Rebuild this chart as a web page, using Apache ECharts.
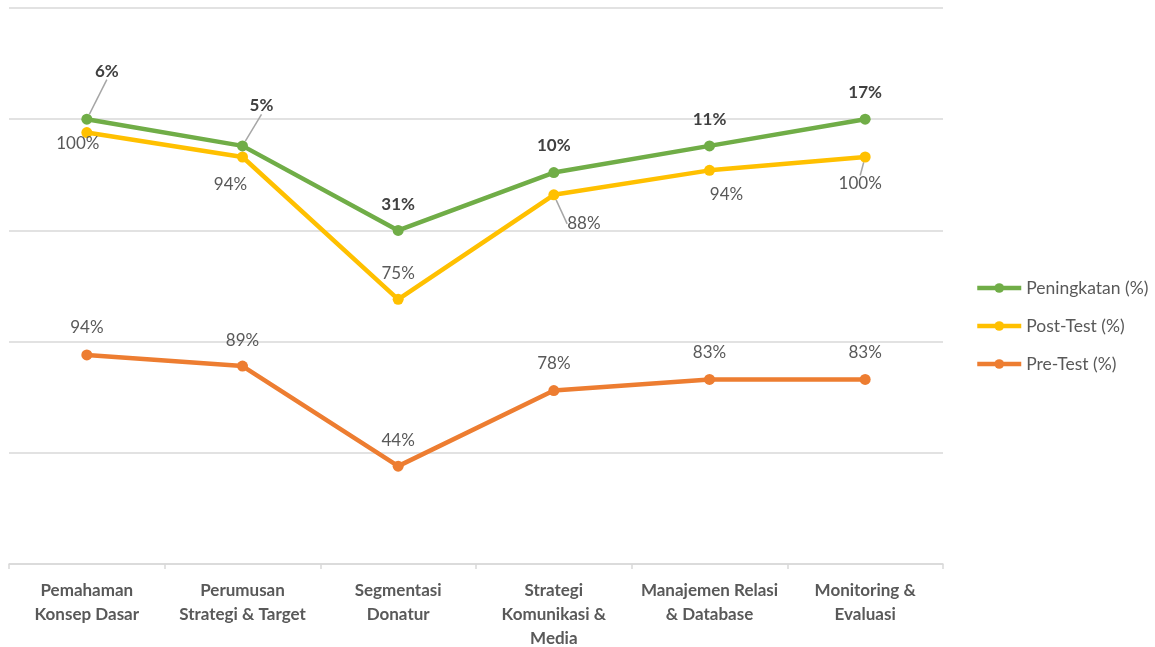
<!DOCTYPE html>
<html>
<head>
<meta charset="utf-8">
<script src="https://cdn.jsdelivr.net/npm/echarts@6/dist/echarts.min.js"></script>
<style>
html,body{margin:0;padding:0;background:#fff;}
#chart{width:1155px;height:647px;}
</style>
</head>
<body>
<div id="chart"></div>
<script>
// ---- data ----
var categories = [
  'Pemahaman\nKonsep Dasar',
  'Perumusan\nStrategi & Target',
  'Segmentasi\nDonatur',
  'Strategi\nKomunikasi &\nMedia',
  'Manajemen Relasi\n& Database',
  'Monitoring &\nEvaluasi'
];
var preTest = [94, 89, 44, 78, 83, 83];
var postTest = [100, 94, 75, 88, 94, 100];
var peningkatan = [6, 5, 31, 10, 11, 17];
var seriesNames = ['Peningkatan (%)', 'Post-Test (%)', 'Pre-Test (%)'];

// ---- label placement (style only) ----
var preOffsets = [[0,-27],[0,-26],[0,-26],[0,-27],[0,-27],[0,-27]];
var postOffsets = [[-9,11],[-12,28],[0,-26],[30,29],[17,24],[-5,27]];
var gainOffsets = [[20,-48],[19,-40],[0,-26],[0,-27],[0,-26],[0,-27]];
var postLeaders = [false,false,false,true,false,true];
var gainLeaders = [true,true,false,false,false,false];

var FONT = 'Lato, "Open Sans", sans-serif';

function mk(values, leaders) {
  return values.map(function (v, i) {
    var o = { value: v };
    if (leaders && leaders[i]) o.labelLine = { show: true };
    return o;
  });
}
function layoutFn(offs) {
  return function (p) {
    var o = offs[p.dataIndex];
    return { dx: o[0], dy: o[1] };
  };
}
function series(name, color, values, offs, leaders, bold) {
  return {
    name: name,
    type: 'line',
    stack: 'total',
    data: mk(values, leaders),
    symbol: 'circle',
    symbolSize: 11,
    lineStyle: { color: color, width: 4.5 },
    itemStyle: { color: color },
    emphasis: { disabled: true },
    label: {
      show: true,
      position: 'inside',
      formatter: '{c}%',
      fontFamily: FONT,
      fontSize: 17,
      fontWeight: bold ? 'bold' : 'normal',
      color: bold ? '#404040' : '#595959'
    },
    labelLine: { show: false, lineStyle: { color: '#a6a6a6', width: 1.5 } },
    labelLayout: layoutFn(offs),
    z: 3
  };
}

var chart = echarts.init(document.getElementById('chart'), null, { renderer: 'canvas' });
chart.setOption({
  animation: false,
  backgroundColor: '#ffffff',
  grid: { left: 9, right: 212, top: 8, bottom: 83, containLabel: false, outerBoundsMode: 'none' },
  legend: {
    orient: 'vertical',
    left: 970,
    top: 274,
    data: seriesNames,
    itemWidth: 44,
    itemHeight: 12,
    itemGap: 20,
    lineStyle: { width: 4.5 },
    textStyle: { fontFamily: FONT, fontSize: 17.5, color: '#595959' }
  },
  xAxis: {
    type: 'category',
    data: categories,
    boundaryGap: true,
    axisLine: { lineStyle: { color: '#d9d9d9', width: 1.5 } },
    axisTick: { show: true, length: 5, lineStyle: { color: '#d9d9d9', width: 1.5 } },
    axisLabel: {
      interval: 0,
      margin: 15,
      fontFamily: FONT,
      fontSize: 17,
      fontWeight: 'bold',
      color: '#595959',
      lineHeight: 24
    }
  },
  yAxis: {
    type: 'value',
    min: 0,
    max: 250,
    interval: 50,
    axisLabel: { show: false },
    axisLine: { show: false },
    axisTick: { show: false },
    splitLine: { show: true, lineStyle: { color: '#d9d9d9', width: 1.5 } }
  },
  series: [
    series(seriesNames[2], '#ed7d31', preTest, preOffsets, null, false),
    series(seriesNames[1], '#ffc000', postTest, postOffsets, postLeaders, false),
    series(seriesNames[0], '#70ad47', peningkatan, gainOffsets, gainLeaders, true)
  ]
});
</script>
</body>
</html>
